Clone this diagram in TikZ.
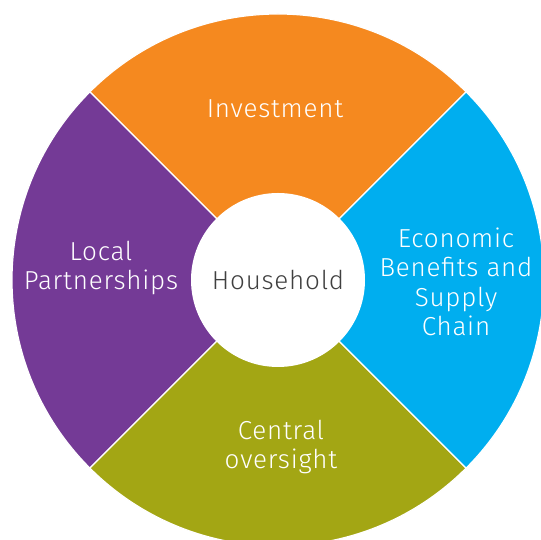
\documentclass[tikz,border=0pt]{standalone}
\usepackage{fontspec}
\setmainfont{Fira Sans Light}[LetterSpace=3]
\definecolor{invorange}{HTML}{F5891F}
\definecolor{ecoblue}{HTML}{00AEEF}
\definecolor{centolive}{HTML}{A3A614}
\definecolor{locpurple}{HTML}{743A96}
\definecolor{hhgray}{HTML}{404040}
\tikzset{
  sector/.style={draw=white,line width=1.2pt},
  label/.style={text=white,font=\fontsize{26}{29.5}\selectfont,align=center},
}
\begin{document}
\begin{tikzpicture}[x=1pt,y=1pt]
        \useasboundingbox(0,0)rectangle(541,540);
        \clip(0,0)rectangle(541,540);
        \coordinate(c)at(278,260);
        \filldraw[sector,fill=invorange](c)--++(45:266)arc(45:135:266)--cycle;
        \filldraw[sector,fill=locpurple](c)--++(135:266)arc(135:225:266)--cycle;
        \filldraw[sector,fill=centolive](c)--++(225:266)arc(225:315:266)--cycle;
        \filldraw[sector,fill=ecoblue](c)--++(315:266)arc(315:405:266)--cycle;
        \node(hh)at(c)[circle,fill=white,minimum size=174,inner sep=0,text=hhgray,font=\fontsize{26}{29.5}\selectfont]{Household};
        \node(inv)at(275,431)[label]{Investment};
        \node(loc)at(101,272)[label]{Local\\Partnerships};
        \node(eco)at(456,258)[label]{Economic\\Benefits and\\Supply\\Chain};
        \node(cen)at(281,93)[label]{Central\\oversight};
    \end{tikzpicture}
\end{document}
